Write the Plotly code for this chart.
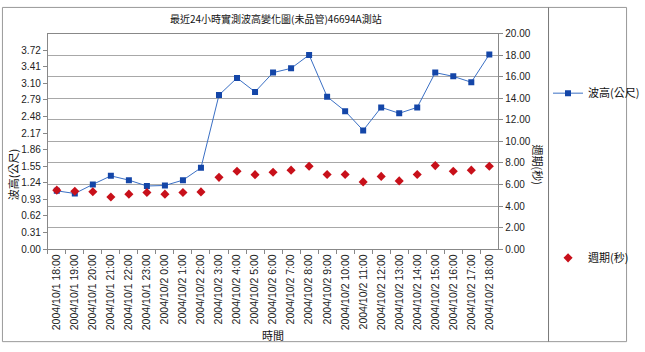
import plotly.graph_objects as go

W, H = 645, 352

times = ["2004/10/1 18:00", "2004/10/1 19:00", "2004/10/1 20:00", "2004/10/1 21:00",
         "2004/10/1 22:00", "2004/10/1 23:00", "2004/10/2 0:00", "2004/10/2 1:00",
         "2004/10/2 2:00", "2004/10/2 3:00", "2004/10/2 4:00", "2004/10/2 5:00",
         "2004/10/2 6:00", "2004/10/2 7:00", "2004/10/2 8:00", "2004/10/2 9:00",
         "2004/10/2 10:00", "2004/10/2 11:00", "2004/10/2 12:00", "2004/10/2 13:00",
         "2004/10/2 14:00", "2004/10/2 15:00", "2004/10/2 16:00", "2004/10/2 17:00",
         "2004/10/2 18:00"]
wave_height = [1.09, 1.04, 1.21, 1.37, 1.29, 1.18, 1.19, 1.29, 1.52, 2.88, 3.20, 2.94,
               3.30, 3.38, 3.63, 2.85, 2.58, 2.22, 2.65, 2.54, 2.65, 3.30, 3.23, 3.12, 3.64]
period = [5.47, 5.37, 5.33, 4.83, 5.10, 5.25, 5.10, 5.25, 5.31, 6.66, 7.23, 6.91,
          7.14, 7.33, 7.69, 6.93, 6.93, 6.24, 6.75, 6.33, 6.93, 7.75, 7.23, 7.33, 7.69]
left_ticks = [round(0.31 * i, 2) for i in range(13)]
right_ticks = [2 * i for i in range(11)]

FONT = "Liberation Sans, Arial, Noto Sans CJK TC, sans-serif"
CJK = "Noto Sans CJK TC, Liberation Sans, sans-serif"

def px(x):
    return x / W

def py(y):
    return 1 - y / H

fig = go.Figure()
fig.add_trace(go.Scatter(
    x=times, y=wave_height, name="波高(公尺)", mode="lines+markers",
    line=dict(color="#3a6fc4", width=1),
    marker=dict(symbol="square", size=6, color="#1446a8"),
    legend="legend"))
fig.add_trace(go.Scatter(
    x=times, y=period, name="週期(秒)", mode="markers", yaxis="y2",
    marker=dict(symbol="diamond", size=7, color="#c8101a"),
    legend="legend2"))

fig.update_layout(
    width=W, height=H, margin=dict(l=0, r=0, t=0, b=0),
    paper_bgcolor="white", plot_bgcolor="white",
    font=dict(family=FONT, size=10, color="#222"),
    xaxis=dict(domain=[px(49), px(511)], type="category", range=[-0.5, 24.5],
               tickangle=-90, tickson="boundaries", ticks="outside", ticklen=4,
               tickcolor="#888", showgrid=False, showline=True, linecolor="#888",
               mirror=True, anchor="y", tickfont=dict(size=10.5, color="#222")),
    yaxis=dict(domain=[py(252), py(29.5)], range=[0, 4.03], tickvals=left_ticks,
               ticktext=[f"{v:.2f}" for v in left_ticks], ticks="outside", ticklen=4,
               tickcolor="#888", showgrid=False, showline=True, linecolor="#888",
               zeroline=False, tickfont=dict(size=10, color="#222")),
    yaxis2=dict(overlaying="y", side="right", range=[0, 20], tickvals=right_ticks,
                ticktext=[f"{v:.2f}" for v in right_ticks], ticks="outside", ticklen=4,
                tickcolor="#888", showgrid=True, gridcolor="#a8a8a8", gridwidth=1,
                showline=True, linecolor="#888", zeroline=False,
                tickfont=dict(size=10, color="#222")),
    legend=dict(x=px(562), y=py(91), xanchor="left", yanchor="middle",
                bgcolor="rgba(0,0,0,0)", font=dict(family=CJK, size=11, color="#111"),
                itemwidth=30),
    legend2=dict(x=px(562), y=py(261), xanchor="left", yanchor="middle",
                 bgcolor="rgba(0,0,0,0)", font=dict(family=CJK, size=11, color="#111"),
                 itemwidth=30),
    showlegend=True,
)

annotations = [
    dict(text="最近24小時實測波高變化圖(未品管)46694A測站", x=px(283), y=py(14),
         font=dict(family=CJK, size=10, color="#111")),
    dict(text="時間", x=px(280), y=py(341), font=dict(family=CJK, size=11, color="#111")),
    dict(text="波高(公尺)", x=px(13), y=py(175), textangle=-90,
         font=dict(family=CJK, size=11, color="#111")),
    dict(text="週期(秒)", x=px(552), y=py(165), textangle=90,
         font=dict(family=CJK, size=11, color="#111")),
]
for a in annotations:
    a.update(xref="paper", yref="paper", showarrow=False, xanchor="center", yanchor="middle")
fig.update_layout(annotations=annotations)

fig.update_layout(shapes=[
    dict(type="rect", xref="paper", yref="paper", x0=px(2.5), x1=px(642.5),
         y0=py(347.5), y1=py(2.5), line=dict(color="#999", width=1)),
    dict(type="line", xref="paper", yref="paper", x0=px(562.5), x1=px(562.5),
         y0=py(347.5), y1=py(2.5), line=dict(color="#777", width=1)),
])

fig.write_html("out.html")
